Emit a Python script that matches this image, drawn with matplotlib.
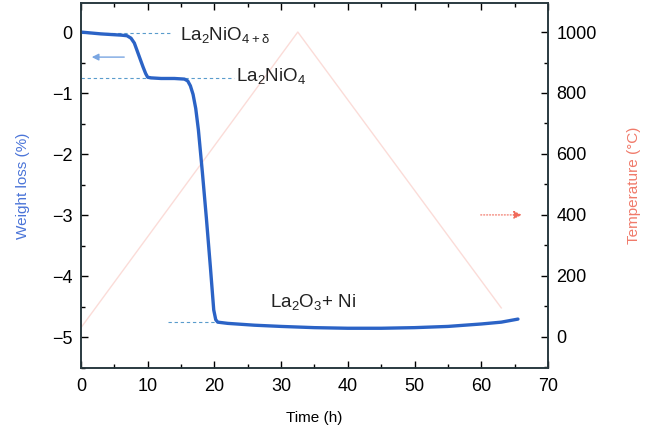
import matplotlib
matplotlib.use("Agg")
import matplotlib.pyplot as plt
from matplotlib.ticker import MultipleLocator

plt.rcParams['font.family'] = ['Liberation Sans', 'DejaVu Sans']
plt.rcParams['mathtext.default'] = 'regular'

# Weight loss data (time in h, weight loss in %)
time_h = [0, 3, 6, 6.9, 7.5, 8.0, 8.4, 8.9, 9.3, 9.7, 10.0, 10.5, 12, 14, 15.5, 16.0,
          16.4, 16.8, 17.2, 17.6, 18.2, 18.8, 19.4, 19.9, 20.2, 20.5, 22, 26, 30, 35, 40,
          45, 50, 55, 60, 63, 65.5]
weight = [0, -0.03, -0.05, -0.06, -0.10, -0.18, -0.30, -0.45, -0.57, -0.68, -0.74, -0.75,
          -0.76, -0.76, -0.77, -0.80, -0.88, -1.02, -1.25, -1.60, -2.30, -3.05, -3.85,
          -4.55, -4.71, -4.75, -4.77, -4.80, -4.82, -4.84, -4.85, -4.85, -4.84, -4.82,
          -4.78, -4.75, -4.70]

# Temperature program
temp_time = [0, 32.5, 63]
temp_c = [30, 1000, 95]

# Reference levels and labels
ref_levels = [-0.02, -0.75, -4.75]
ref_start = [0, 0, 13]
ref_end = [13.3, 23, 20.3]
phase_labels = [r'La$_2$NiO$_{4+\delta}$', r'La$_2$NiO$_4$', r'La$_2$O$_3$+ Ni']
label_x = [14.8, 23.3, 28.3]
label_y = [-0.04, -0.72, -4.42]

fig = plt.figure(figsize=(6.61, 4.37), dpi=100)
ax = fig.add_axes([0.1225, 0.158, 0.7065, 0.835])
ax2 = ax.twinx()

blue = '#2b63c6'

ax2.plot(temp_time, temp_c, color='#fbdcd8', lw=1.0, zorder=1)
ax.set_zorder(ax2.get_zorder() + 1)
ax.patch.set_visible(False)

for lvl, s, e in zip(ref_levels, ref_start, ref_end):
    ax.plot([s, e], [lvl, lvl], ls=(0, (3, 2.5)), color='#5a9ccc', lw=0.8)

ax.plot(time_h, weight, color=blue, lw=2.4, solid_capstyle='round')

for lab, lx, ly in zip(phase_labels, label_x, label_y):
    ax.text(lx, ly, lab, fontsize=13.5, va='center', ha='left', color='#222222')

# arrows
ax.annotate('', xy=(1.2, -0.41), xytext=(6.9, -0.41),
            arrowprops=dict(arrowstyle='-|>', color='#7aa6e2', lw=1.0,
                            mutation_scale=10))
ax2.annotate('', xy=(66.5, 400), xytext=(59.5, 400),
             arrowprops=dict(arrowstyle='-|>', color='#f06a5a', lw=0.8, ls=':',
                             mutation_scale=12))

ax.set_xlim(0, 70)
ax.set_ylim(-5.5, 0.475)
ax2.set_ylim(-102, 1095)

ax.xaxis.set_major_locator(MultipleLocator(10))
ax.xaxis.set_minor_locator(MultipleLocator(5))
ax.yaxis.set_major_locator(MultipleLocator(1))
ax.yaxis.set_minor_locator(MultipleLocator(0.5))
ax2.yaxis.set_major_locator(MultipleLocator(200))
ax2.yaxis.set_minor_locator(MultipleLocator(100))

ax.tick_params(axis='x', which='both', direction='in', top=True, labelsize=13, pad=7)
ax.tick_params(axis='y', which='both', direction='in', labelsize=13, pad=6)
ax.tick_params(which='major', length=5, width=1)
ax.tick_params(which='minor', length=3, width=1)
ax2.tick_params(axis='y', which='both', direction='in', labelsize=13, pad=6)
ax2.tick_params(which='major', length=5, width=1)
ax2.tick_params(which='minor', length=3, width=1)

ax.set_yticks([-5, -4, -3, -2, -1, 0])
ax.set_yticklabels(['\u22125', '\u22124', '\u22123', '\u22122', '\u22121', '0'])

for a in (ax, ax2):
    for sp in a.spines.values():
        sp.set_color('#2a3a40')
        sp.set_linewidth(1.2)

ax.set_xlabel('Time (h)', fontsize=11, labelpad=12)
ax.set_ylabel('Weight loss (%)', fontsize=11, color='#4a74d8', labelpad=16)
ax2.set_ylabel('Temperature (\u00b0C)', fontsize=11, color='#f07a6a', labelpad=22)

fig.savefig('out.png', dpi=100)
